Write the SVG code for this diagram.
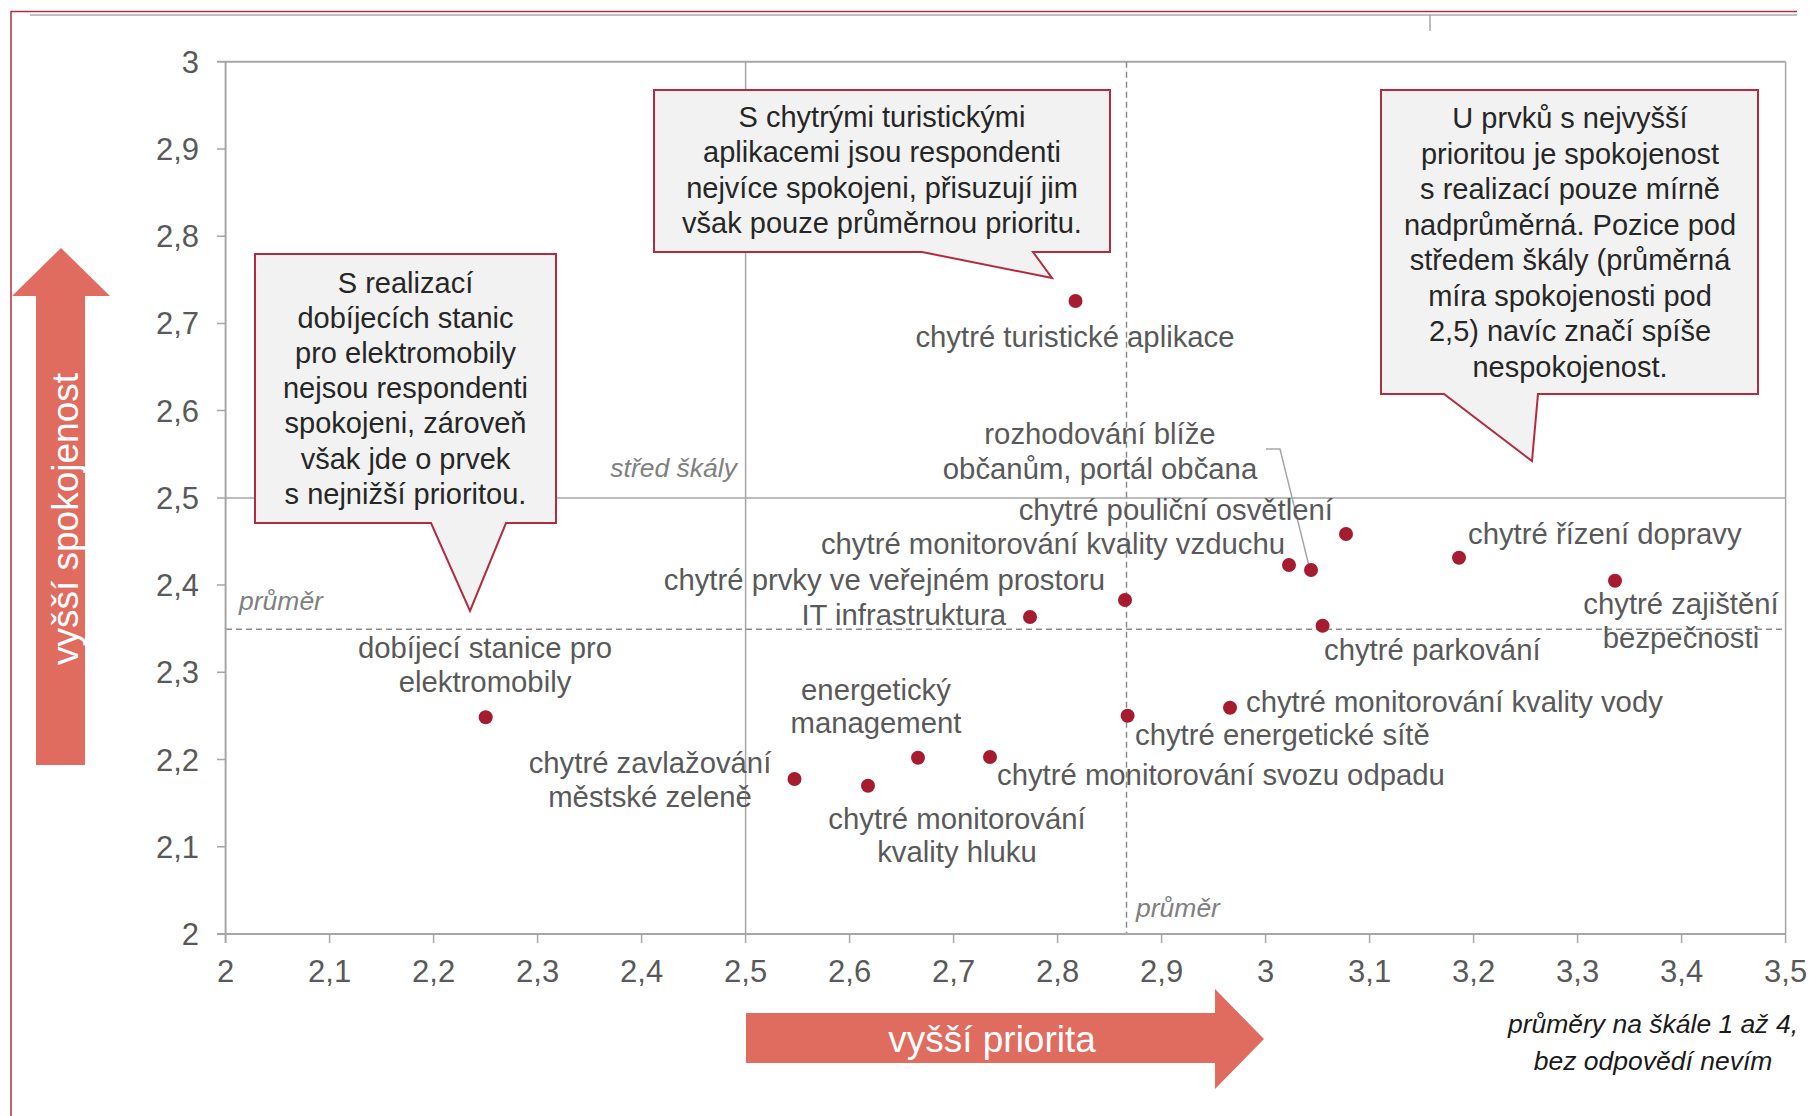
<svg xmlns="http://www.w3.org/2000/svg" width="1818" height="1116" viewBox="0 0 1818 1116">
<style>
text{font-family:"Liberation Sans",Arial,sans-serif}
.tick{font-size:31px;fill:#595959}
.ty{text-anchor:end}
.tx{text-anchor:middle}
.lbl{font-size:29.3px;fill:#595959}
.m{text-anchor:middle}
.e{text-anchor:end}
.call{font-size:29px;fill:#262626;text-anchor:middle}
.ref{font-size:26.5px;font-style:italic;fill:#808080}
.grid{stroke:#A6A6A6;stroke-width:1.5;fill:none}
.axis{stroke:#A6A6A6;stroke-width:2;fill:none}
.avg{stroke:#8C8C8C;stroke-width:1.5;stroke-dasharray:6 4;fill:none}
.dot{fill:#A51C30}
.box{fill:#F2F2F2;stroke:#B22B3F;stroke-width:2}
.arrow{fill:#DF6C5F}
.atext{fill:#FFFFFF;text-anchor:middle}
</style>
<rect width="1818" height="1116" fill="#FFFFFF"/>
<g id="frame">
<line x1="30" y1="15" x2="1797" y2="15" stroke="#BFBFBF" stroke-width="2"/>
<line x1="11" y1="11.5" x2="1797" y2="11.5" stroke="#B22B3F" stroke-width="1.5"/>
<line x1="11" y1="11" x2="11" y2="1116" stroke="#B22B3F" stroke-width="1.5"/>
<line x1="1430" y1="15" x2="1430" y2="31" stroke="#A6A6A6" stroke-width="1.5"/>
</g>
<g id="plot-grid">
<line class="axis" x1="217" y1="61.7" x2="1785.6" y2="61.7"/>
<line class="grid" x1="1785.6" y1="61.7" x2="1785.6" y2="934"/>
<line class="grid" x1="217" y1="497.9" x2="1785.6" y2="497.9"/>
<line class="grid" x1="745.6" y1="61.7" x2="745.6" y2="943"/>
<line class="avg" x1="226" y1="629.3" x2="1785.6" y2="629.3"/>
<line class="avg" x1="1126.5" y1="61.7" x2="1126.5" y2="934"/>
<line class="axis" x1="225.6" y1="61.7" x2="225.6" y2="943"/>
<line class="axis" x1="217" y1="934" x2="1785.6" y2="934"/>
<path class="grid" d="M217 148.9H226M217 236.2H226M217 323.4H226M217 410.6H226M217 585.1H226M217 672.3H226M217 759.5H226M217 846.8H226"/>
<path class="grid" d="M329.6 934V943M433.6 934V943M537.6 934V943M641.6 934V943M849.6 934V943M953.6 934V943M1057.6 934V943M1161.6 934V943M1265.6 934V943M1369.6 934V943M1473.6 934V943M1577.6 934V943M1681.6 934V943M1785.6 934V943"/>
</g>
<g id="y-ticks" class="tick ty">
<text x="199" y="72.7">3</text>
<text x="199" y="159.9">2,9</text>
<text x="199" y="247.2">2,8</text>
<text x="199" y="334.4">2,7</text>
<text x="199" y="421.6">2,6</text>
<text x="199" y="508.9">2,5</text>
<text x="199" y="596.1">2,4</text>
<text x="199" y="683.3">2,3</text>
<text x="199" y="770.5">2,2</text>
<text x="199" y="857.8">2,1</text>
<text x="199" y="945">2</text>
</g>
<g id="x-ticks" class="tick tx">
<text x="225.6" y="982">2</text>
<text x="329.6" y="982">2,1</text>
<text x="433.6" y="982">2,2</text>
<text x="537.6" y="982">2,3</text>
<text x="641.6" y="982">2,4</text>
<text x="745.6" y="982">2,5</text>
<text x="849.6" y="982">2,6</text>
<text x="953.6" y="982">2,7</text>
<text x="1057.6" y="982">2,8</text>
<text x="1161.6" y="982">2,9</text>
<text x="1265.6" y="982">3</text>
<text x="1369.6" y="982">3,1</text>
<text x="1473.6" y="982">3,2</text>
<text x="1577.6" y="982">3,3</text>
<text x="1681.6" y="982">3,4</text>
<text x="1785.6" y="982">3,5</text>
</g>
<g id="reference-labels" class="ref">
<text x="737" y="477" text-anchor="end">střed škály</text>
<text x="239" y="610">průměr</text>
<text x="1136" y="917">průměr</text>
</g>
<g id="connectors">
<polyline points="1266,449 1280,449 1309,566" fill="none" stroke="#A6A6A6" stroke-width="1.5"/>
</g>
<g id="callout-left">
<path class="box" d="M255 254H556V523H506L470 611L431 523H255Z"/>
<text class="call"><tspan x="405.5" y="293">S realizací</tspan><tspan x="405.5" y="328.1">dobíjecích stanic</tspan><tspan x="405.5" y="363.2">pro elektromobily</tspan><tspan x="405.5" y="398.3">nejsou respondenti</tspan><tspan x="405.5" y="433.4">spokojeni, zároveň</tspan><tspan x="405.5" y="468.5">však jde o prvek</tspan><tspan x="405.5" y="503.6">s nejnižší prioritou.</tspan></text>
</g>
<g id="callout-middle">
<path class="box" d="M654 90H1110V252H1033L1052 278L922 252H654Z"/>
<text class="call"><tspan x="882" y="127">S chytrými turistickými</tspan><tspan x="882" y="162.3">aplikacemi jsou respondenti</tspan><tspan x="882" y="197.6">nejvíce spokojeni, přisuzují jim</tspan><tspan x="882" y="233">však pouze průměrnou prioritu.</tspan></text>
</g>
<g id="callout-right">
<path class="box" d="M1381 90H1758V394H1538L1532 461L1444 394H1381Z"/>
<text class="call"><tspan x="1570" y="128">U prvků s nejvyšší</tspan><tspan x="1570" y="163.5">prioritou je spokojenost</tspan><tspan x="1570" y="199">s realizací pouze mírně</tspan><tspan x="1570" y="234.5">nadprůměrná. Pozice pod</tspan><tspan x="1570" y="270">středem škály (průměrná</tspan><tspan x="1570" y="305.5">míra spokojenosti pod</tspan><tspan x="1570" y="341">2,5) navíc značí spíše</tspan><tspan x="1570" y="376.5">nespokojenost.</tspan></text>
</g>
<g id="p-turisticke"><circle class="dot" cx="1075.5" cy="301" r="7"/><text class="lbl m" x="1075" y="347">chytré turistické aplikace</text></g>
<g id="p-rozhodovani"><circle class="dot" cx="1311" cy="570" r="7"/><text class="lbl m"><tspan x="1100" y="444">rozhodování blíže</tspan><tspan x="1100" y="479">občanům, portál občana</tspan></text></g>
<g id="p-osvetleni"><circle class="dot" cx="1346" cy="534" r="7"/><text class="lbl e" x="1333" y="520">chytré pouliční osvětlení</text></g>
<g id="p-vzduch"><circle class="dot" cx="1289" cy="565" r="7"/><text class="lbl e" x="1285" y="553.5">chytré monitorování kvality vzduchu</text></g>
<g id="p-doprava"><circle class="dot" cx="1459" cy="557.7" r="7"/><text class="lbl" x="1468" y="544">chytré řízení dopravy</text></g>
<g id="p-bezpecnost"><circle class="dot" cx="1615" cy="580.7" r="7"/><text class="lbl m"><tspan x="1681" y="614">chytré zajištění</tspan><tspan x="1681" y="648">bezpečnosti</tspan></text></g>
<g id="p-prvky"><circle class="dot" cx="1125" cy="600" r="7"/><text class="lbl e" x="1105" y="590">chytré prvky ve veřejném prostoru</text></g>
<g id="p-it"><circle class="dot" cx="1030" cy="617" r="7"/><text class="lbl e" x="1006" y="625">IT infrastruktura</text></g>
<g id="p-parkovani"><circle class="dot" cx="1322.6" cy="625.7" r="7"/><text class="lbl" x="1324" y="660">chytré parkování</text></g>
<g id="p-voda"><circle class="dot" cx="1230" cy="707.7" r="7"/><text class="lbl" x="1246" y="712">chytré monitorování kvality vody</text></g>
<g id="p-site"><circle class="dot" cx="1127.6" cy="715.7" r="7"/><text class="lbl" x="1135" y="745">chytré energetické sítě</text></g>
<g id="p-odpad"><circle class="dot" cx="990" cy="757" r="7"/><text class="lbl" x="997" y="785">chytré monitorování svozu odpadu</text></g>
<g id="p-energeticky"><circle class="dot" cx="918" cy="757.7" r="7"/><text class="lbl m"><tspan x="876" y="700">energetický</tspan><tspan x="876" y="733">management</tspan></text></g>
<g id="p-zavlazovani"><circle class="dot" cx="794.5" cy="779" r="7"/><text class="lbl m"><tspan x="650" y="773">chytré zavlažování</tspan><tspan x="650" y="807">městské zeleně</tspan></text></g>
<g id="p-hluk"><circle class="dot" cx="868" cy="785.7" r="7"/><text class="lbl m"><tspan x="957" y="829">chytré monitorování</tspan><tspan x="957" y="862">kvality hluku</tspan></text></g>
<g id="p-dobijeci"><circle class="dot" cx="485.7" cy="717.3" r="7"/><text class="lbl m"><tspan x="485" y="658">dobíjecí stanice pro</tspan><tspan x="485" y="692">elektromobily</tspan></text></g>
<g id="arrow-satisfaction">
<polygon class="arrow" points="61,248 110,296 85,296 85,765 36,765 36,296 12,296"/>
<text class="atext" font-size="37" transform="translate(78,519) rotate(-90)">vyšší spokojenost</text>
</g>
<g id="arrow-priority">
<polygon class="arrow" points="746,1013 1215,1013 1215,989 1264,1039 1215,1089 1215,1063 746,1063"/>
<text class="atext" font-size="37" x="992" y="1052">vyšší priorita</text>
</g>
<g id="note">
<text font-size="26.5" font-style="italic" fill="#1A1A1A" text-anchor="middle"><tspan x="1653" y="1033">průměry na škále 1 až 4,</tspan><tspan x="1653" y="1070">bez odpovědí nevím</tspan></text>
</g>
</svg>
